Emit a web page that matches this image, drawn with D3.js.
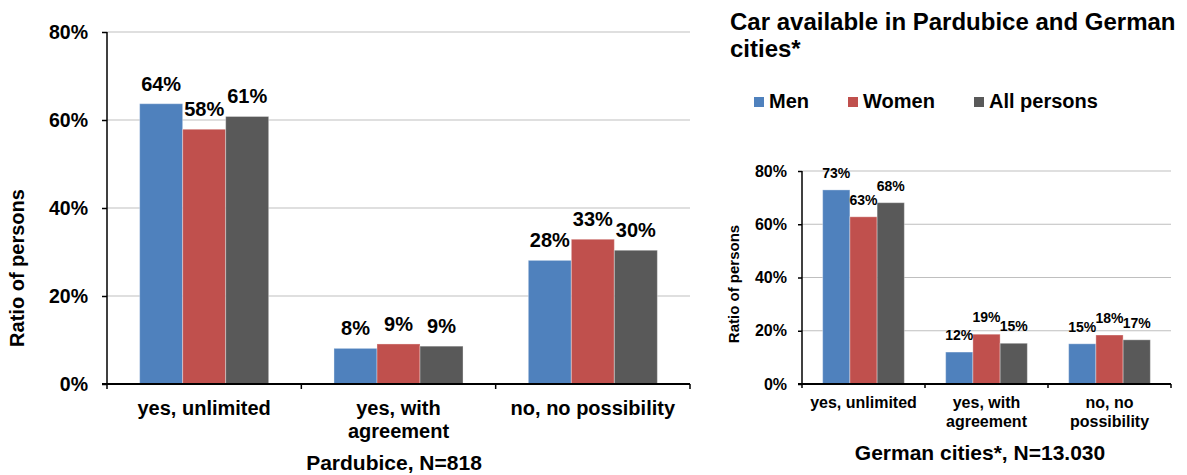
<!DOCTYPE html>
<html>
<head>
<meta charset="utf-8">
<script src="https://cdn.jsdelivr.net/npm/d3@7"></script>
<style>
  html, body { margin: 0; padding: 0; background: #fff; }
  svg { display: block; font-family: "Liberation Sans", Arial, sans-serif; font-weight: bold; }
</style>
</head>
<body>
<svg id="chart" width="1187" height="475"></svg>
<script>
// Answer categories shared by both panels
const categories = ["yes, unlimited", "yes, with agreement", "no, no possibility"];
const seriesNames = ["Men", "Women", "All persons"];
const seriesColors = ["#4F81BD", "#C0504D", "#595959"];
const yTicks = [0, 20, 40, 60, 80];

// Pardubice, N=818 (percent of persons)
const pardubiceMen = [63.7, 8.1, 28.1];
const pardubiceWomen = [57.9, 9.1, 32.9];
const pardubiceAll = [60.8, 8.6, 30.4];

// German cities, N=13.030 (percent of persons)
const germanMen = [72.9, 12.0, 15.1];
const germanWomen = [62.8, 18.7, 18.4];
const germanAll = [68.1, 15.3, 16.6];

const svg = d3.select("#chart");

function drawPanel(cfg) {
  const g = svg.append("g");
  const series = [cfg.men, cfg.women, cfg.all];

  const x = d3.scaleBand().domain(categories).range([cfg.left, cfg.right])
    .paddingInner(0.336).paddingOuter(0.168);
  const xs = d3.scaleBand().domain(seriesNames).range([0, x.bandwidth()]);
  const y = d3.scaleLinear().domain([0, 80]).range([cfg.bottom, cfg.top]);

  // horizontal gridlines
  g.selectAll("line.grid").data(yTicks.filter(d => d > 0)).join("line")
    .attr("x1", cfg.left).attr("x2", cfg.right)
    .attr("y1", d => y(d)).attr("y2", d => y(d))
    .attr("stroke", "#bfbfbf").attr("stroke-width", 1);

  // bars
  series.forEach((vals, si) => {
    g.selectAll(null).data(vals).join("rect")
      .attr("x", (d, i) => x(categories[i]) + xs(seriesNames[si]))
      .attr("y", d => y(d))
      .attr("width", xs.bandwidth())
      .attr("height", d => y(0) - y(d))
      .attr("fill", seriesColors[si])
      .attr("stroke", "rgba(255,255,255,0.35)")
      .attr("stroke-width", 1);
  });

  // value labels
  series.forEach((vals, si) => {
    g.selectAll(null).data(vals).join("text")
      .attr("x", (d, i) => x(categories[i]) + xs(seriesNames[si]) + xs.bandwidth() / 2)
      .attr("y", d => y(d) - cfg.labelGap)
      .attr("text-anchor", "middle")
      .attr("font-size", cfg.labelSize)
      .attr("fill", "#000")
      .text(d => Math.round(d) + "%");
  });

  // y axis
  const yAxis = d3.axisLeft(y).tickValues(yTicks).tickFormat(d => d + "%")
    .tickSize(cfg.tick).tickPadding(cfg.tickPad);
  const ya = g.append("g").attr("transform", `translate(${cfg.left},0)`).call(yAxis);
  ya.select(".domain").attr("stroke", "#000").attr("stroke-width", 1.5)
    .attr("d", `M0,${cfg.bottom}V${cfg.top}`);
  ya.selectAll(".tick line").attr("stroke", "#000").attr("stroke-width", 1.5);
  ya.selectAll(".tick text").attr("font-size", cfg.tickSize).attr("fill", "#000")
    .attr("font-family", "Liberation Sans, Arial, sans-serif").attr("font-weight", "bold");

  // x axis: baseline with boundary tick marks
  const bounds = categories.map(c => x(c) - x.step() * x.paddingInner() / 2).concat([cfg.right]);
  g.append("line").attr("x1", cfg.left - cfg.tick).attr("x2", cfg.right)
    .attr("y1", cfg.bottom).attr("y2", cfg.bottom)
    .attr("stroke", "#000").attr("stroke-width", 2);
  g.selectAll(null).data(bounds).join("line")
    .attr("x1", d => d).attr("x2", d => d)
    .attr("y1", cfg.bottom).attr("y2", cfg.bottom + cfg.tick)
    .attr("stroke", "#000").attr("stroke-width", 1.5);

  // category labels, wrapped to the band step
  categories.forEach(c => {
    const t = g.append("text")
      .attr("x", x(c) + x.bandwidth() / 2)
      .attr("y", cfg.bottom + cfg.catOffset)
      .attr("text-anchor", "middle")
      .attr("font-size", cfg.catSize)
      .attr("fill", "#000");
    const words = c.split(" ");
    let line = [];
    let lineNo = 0;
    let tspan = t.append("tspan").attr("x", x(c) + x.bandwidth() / 2).attr("dy", 0);
    words.forEach(w => {
      line.push(w);
      tspan.text(line.join(" "));
      if (tspan.node().getComputedTextLength() > x.step() - 10 && line.length > 1) {
        line.pop();
        tspan.text(line.join(" "));
        line = [w];
        lineNo++;
        tspan = t.append("tspan").attr("x", x(c) + x.bandwidth() / 2)
          .attr("dy", cfg.catLine).text(w);
      }
    });
  });

  // axis titles
  g.append("text")
    .attr("transform", `translate(${cfg.yTitleX},${cfg.yTitleY}) rotate(-90)`)
    .attr("text-anchor", "middle").attr("font-size", cfg.yTitleSize).attr("fill", "#000")
    .text("Ratio of persons");
  g.append("text")
    .attr("x", cfg.xTitleX).attr("y", cfg.xTitleY)
    .attr("text-anchor", "middle").attr("font-size", cfg.xTitleSize).attr("fill", "#000")
    .text(cfg.xTitle);
}

drawPanel({
  men: pardubiceMen, women: pardubiceWomen, all: pardubiceAll,
  left: 107, right: 690, top: 32, bottom: 384,
  tick: 5, tickPad: 14, tickSize: 19.5,
  labelSize: 20, labelGap: 13,
  catSize: 20, catOffset: 31, catLine: 23,
  yTitleX: 24, yTitleY: 268, yTitleSize: 20,
  xTitle: "Pardubice, N=818", xTitleX: 394, xTitleY: 470, xTitleSize: 21
});

drawPanel({
  men: germanMen, women: germanWomen, all: germanAll,
  left: 802, right: 1171, top: 171, bottom: 384,
  tick: 4, tickPad: 11, tickSize: 16,
  labelSize: 14, labelGap: 12,
  catSize: 16, catOffset: 24, catLine: 18.5,
  yTitleX: 739, yTitleY: 284, yTitleSize: 15,
  xTitle: "German cities*, N=13.030", xTitleX: 980, xTitleY: 460, xTitleSize: 21
});

// title
svg.append("text").attr("x", 730).attr("y", 29.5).attr("font-size", 24).attr("fill", "#000")
  .text("Car available in Pardubice and German");
svg.append("text").attr("x", 730).attr("y", 57).attr("font-size", 24).attr("fill", "#000")
  .text("cities*");

// legend
const legendX = [754, 848, 974];
const legend = svg.append("g");
seriesNames.forEach((name, i) => {
  legend.append("rect").attr("x", legendX[i]).attr("y", 97).attr("width", 10).attr("height", 10)
    .attr("fill", seriesColors[i]);
  legend.append("text").attr("x", legendX[i] + 15).attr("y", 108).attr("font-size", 20)
    .attr("fill", "#000").text(name);
});
</script>
</body>
</html>
